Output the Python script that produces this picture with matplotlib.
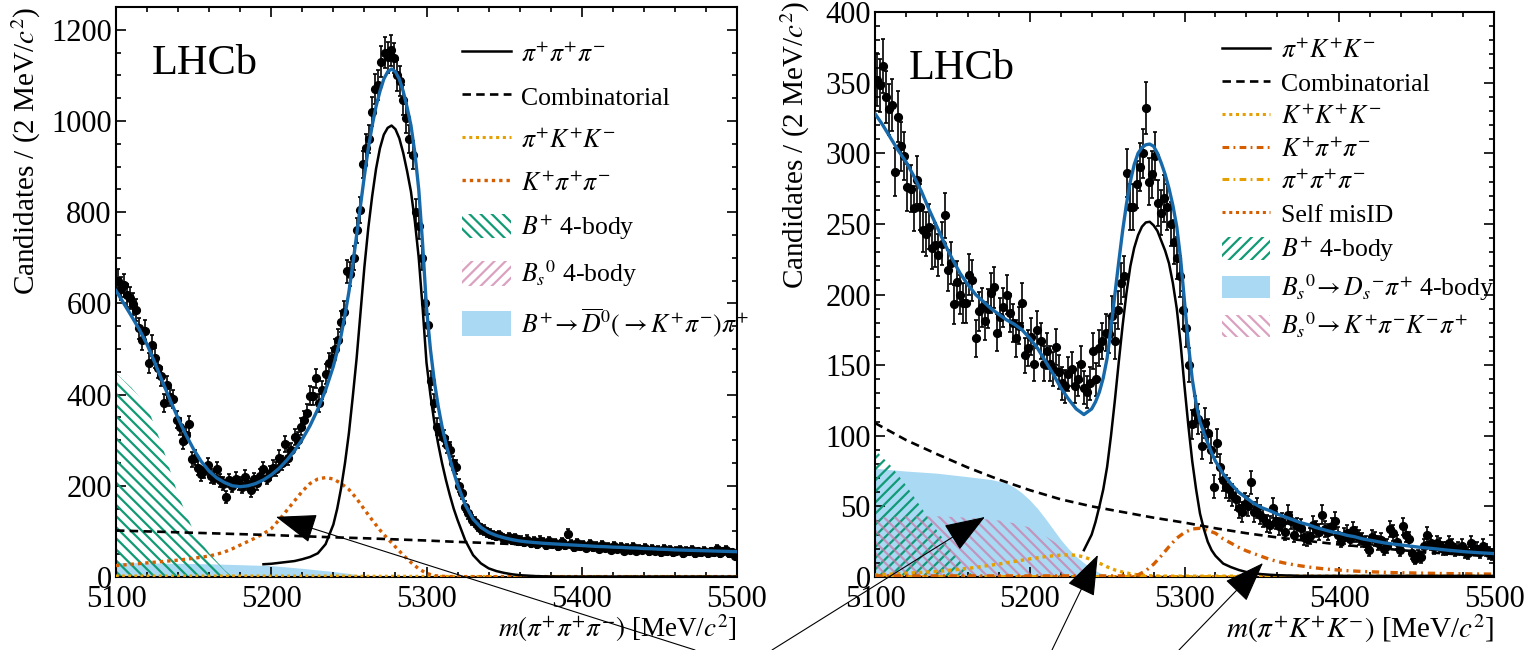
import numpy as np
import matplotlib
matplotlib.use('Agg')
import matplotlib.pyplot as plt
from matplotlib.lines import Line2D
from matplotlib.patches import Patch
from matplotlib.ticker import MultipleLocator

plt.rcParams['font.family'] = ['Liberation Serif', 'DejaVu Serif']
plt.rcParams['mathtext.fontset'] = 'stix'
plt.rcParams['hatch.linewidth'] = 1.6

# bin centres and curve grids (MeV/c^2)
bins = np.arange(5101, 5500, 2)
fit_m = np.r_[np.arange(5100, 5240, 5), np.arange(5240, 5320, 2.5), np.arange(5320, 5501, 5)]
grid5 = np.arange(5100, 5501, 5)
comb_m = np.arange(5100, 5501, 20)

# ---------------- left: m(pi+ pi+ pi-) ----------------
left_counts = [
    650, 632, 640, 618, 612, 598, 585, 545, 520, 540,
    470, 508, 480, 458, 440, 382, 420, 395, 390, 345,
    330, 298, 312, 335, 258, 262, 240, 226, 232, 246,
    222, 218, 236, 212, 205, 176, 212, 200, 216, 206,
    198, 220, 204, 190, 214, 206, 222, 236, 218, 228,
    240, 236, 262, 250, 292, 262, 278, 308, 300, 330,
    345, 360, 398, 396, 436, 382, 410, 445, 470, 480,
    500, 520, 560, 582, 670, 665, 700, 760, 805, 905,
    940, 960, 1020, 1070, 1080, 1130, 1150, 1140, 1155, 1138,
    1100, 1087, 1046, 1006, 960, 926, 800, 770, 700, 600,
    553, 430, 382, 330, 318, 305, 290, 279, 250, 242,
    200, 184, 154, 140, 125, 120, 112, 105, 103, 98,
    95, 92, 90, 92, 86, 84, 88, 82, 85, 80,
    80, 76, 82, 74, 78, 72, 80, 76, 70, 78,
    72, 74, 68, 76, 70, 95, 72, 66, 74, 68,
    70, 64, 72, 66, 68, 62, 70, 64, 66, 60,
    68, 62, 66, 58, 64, 60, 66, 58, 62, 60,
    64, 56, 62, 58, 60, 54, 62, 56, 60, 54,
    58, 60, 52, 58, 56, 60, 52, 56, 54, 58,
    52, 56, 54, 62, 52, 56, 60, 52, 54, 46,
]
left_fit = [
    628, 600, 572, 543, 510, 470, 428, 387, 348, 312,
    280, 253, 232, 217, 207, 200, 198, 200, 205, 213,
    224, 238, 256, 277, 302, 332, 368, 410,
    462, 495, 530, 575, 625, 685, 750, 815, 880, 940,
    990, 1032, 1065, 1092, 1108, 1114, 1108, 1092, 1065, 1030,
    990, 930, 850, 730, 590, 500, 430, 375, 330, 293,
    260, 230,
    203, 158, 127, 109, 98, 91, 86, 82, 79, 77,
    75.5, 74, 73, 72, 71, 70, 69, 68, 67, 66.5,
    65.5, 65, 64, 63.5, 62.5, 62, 61, 60.5, 59.5, 59,
    58.5, 58, 57.5, 57, 56.5, 56, 55.5,
]
left_sig_m = np.r_[np.arange(5195, 5240, 5), np.arange(5240, 5320, 2.5), np.arange(5320, 5501, 5)]
left_sig = [28, 29, 31, 33, 35, 39, 44, 52, 72,
            115, 150, 195, 250, 315, 395, 480, 580, 680, 765,
            835, 895, 940, 970, 985, 990, 982, 962, 930, 890,
            845, 780, 700, 590, 470, 400, 340, 292, 250, 213,
            180, 150,
            125, 80, 48, 30, 19, 13, 9, 6, 4, 3, 2, 1.5, 1.2] + [1.0] * 24
left_comb = [102, 100, 98, 96, 94, 92, 89.5, 87, 85, 82.5, 80,
             77, 74.5, 71.5, 69, 66, 63.5, 61, 58.5, 56, 53.5]
left_kpp = [25, 26.5, 28, 29.5, 31, 32.5, 34, 35.5, 37, 39,
            41, 43.5, 46, 50, 55, 62, 70, 78, 86, 95,
            106, 125, 146, 167, 188, 205, 215, 218, 215, 205,
            192, 172, 148, 125, 103, 84, 66, 48, 32, 18,
            8, 3, 1.5, 1] + [0.8] * 37
left_pkk = [2.5, 2.5, 2.5, 2.5, 2.5, 2.5, 2.5, 2.5, 2.0, 2.0, 1.8,
            1.5, 1.5, 1.5, 1.5, 1.5, 1.5, 1.5, 1.5, 1.5, 1.5]
left_dfill_m = [5100, 5120, 5140, 5160, 5180, 5200, 5220, 5240, 5250, 5260, 5265]
left_dfill = [32, 31, 30, 29, 27, 25, 19, 12, 8, 3, 0]
left_b4_m = [5100, 5110, 5120, 5130, 5140, 5150, 5160, 5170, 5175]
left_b4 = [447, 415, 375, 285, 180, 100, 52, 15, 0]

# ---------------- right: m(pi+ K+ K-) ----------------
right_counts = [
    352, 348, 362, 340, 331, 334, 287, 326, 305, 298,
    276, 275, 261, 281, 262, 246, 243, 248, 233, 235,
    228, 236, 256, 217, 222, 193, 209, 200, 194, 194,
    214, 210, 169, 188, 191, 181, 190, 201, 205, 173,
    184, 191, 200, 187, 180, 169, 178, 194, 157, 162,
    170, 151, 175, 167, 151, 160, 151, 147, 163, 145,
    137, 135, 144, 147, 135, 140, 151, 134, 131, 137,
    160, 140, 162, 167, 173, 172, 185, 167, 189, 208,
    213, 286, 262, 262, 278, 290, 300, 332, 280, 285,
    298, 265, 258, 268, 262, 250, 237, 226, 213, 189,
    176, 150, 108, 117, 112, 93, 109, 102, 90, 64,
    95, 78, 69, 64, 62, 58, 55, 49, 46, 52,
    50, 67, 46, 49, 44, 42, 38, 37, 49, 40,
    36, 39, 32, 44, 40, 30, 36, 35, 28, 27,
    29, 37, 34, 32, 44, 34, 32, 36, 40, 30,
    26, 29, 31, 27, 33, 30, 28, 26, 24, 19,
    28, 27, 24, 26, 20, 22, 34, 31, 25, 19,
    36, 30, 27, 17, 13, 15, 14, 22, 30, 24,
    21, 24, 23, 20, 20, 24, 22, 19, 20, 22,
    18, 17, 24, 20, 20, 18, 22, 19, 17, 16,
]
right_fit = [
    328, 320, 311, 302, 294, 284, 273, 260, 248, 236,
    225, 215, 207, 200, 195, 190, 186, 182, 179, 175,
    169, 162, 153, 144, 134, 126, 119, 115,
    119, 124, 131, 141, 155, 176, 200, 223, 245, 264,
    280, 292, 300, 304, 306, 306.5, 305, 300, 293, 285,
    275, 263, 248, 225, 195, 165, 140, 123, 110, 102,
    95, 88,
    82, 73, 66, 60, 56, 52, 49, 47, 44.5, 42.5,
    40.5, 38.5, 37, 35, 33.5, 32, 31, 29.5, 28.5, 27,
    26, 25, 24, 23.3, 22.7, 22, 21.3, 20.7, 20.2, 19.6,
    19, 18.5, 18, 17.6, 17.2, 16.9, 16.6,
]
right_sig_m = np.r_[5235, np.arange(5240, 5320, 2.5), np.arange(5320, 5501, 5)]
right_sig = [19,
             30, 39, 50, 62, 78, 100, 125, 152, 178, 201,
             220, 233, 242, 248, 251, 251.5, 249, 245, 238, 231,
             222, 208, 190, 165, 135, 107, 82, 62, 45, 34,
             25, 19,
             15, 9.5, 7, 5, 3.5, 2.6, 2, 1.6, 1.3, 1.1, 1.0] + [0.8] * 26
right_comb = [109, 97, 87, 77.5, 69, 61.5, 55, 50, 46, 42, 38.5,
              34.5, 31, 28, 25.5, 23, 21, 19, 17.3, 15.8, 14.5]
right_kkk = [1.4, 1.7, 2.0, 2.3, 2.6, 3.0, 3.3, 3.6, 3.9, 4.4,
             5.0, 5.5, 6.1, 6.8, 7.6, 8.4, 9.2, 10.1, 11.0, 11.9,
             12.8, 13.6, 14.4, 15.0, 15.5, 15.7, 15.4, 14.2, 12.2, 9.8,
             7.2, 5.0, 3.5, 2.3, 1.5, 1.0, 0.8] + [0.6] * 44
right_kpp = [0.8] * 34 + [
    1.5, 4.5, 9, 15, 21.5, 27.5, 31.5, 34, 34.5, 33,
    31, 27, 24, 21, 18.5, 16.5, 14.5, 12.5, 11, 9.8,
    8.8, 7.9, 7.1, 6.4, 5.8, 5.3, 4.9, 4.5, 4.2, 3.9,
    3.7, 3.5, 3.3, 3.1, 3.0, 2.9, 2.8, 2.7, 2.6, 2.5,
    2.4, 2.35, 2.3, 2.2, 2.15, 2.1, 2.05]
right_ppp = [0.6] * 21
right_self = [0.5] * 21
right_dfill_m = [5100, 5110, 5120, 5140, 5160, 5175, 5185, 5190, 5195, 5200, 5205,
                 5210, 5215, 5220, 5225, 5230, 5235, 5240, 5245, 5250, 5255]
right_dfill = [77, 76, 75, 73.5, 71, 69, 66.5, 63.5, 59.5, 54.5, 48.5,
               41.5, 34, 26.5, 20, 14.5, 10, 6, 3, 1, 0]
right_b4_m = [5100, 5110, 5120, 5130, 5140, 5150, 5160, 5165]
right_b4 = [90, 79, 65, 49, 33, 18, 4, 0]
right_kpkp_m = [5100, 5120, 5140, 5160, 5180, 5190, 5200, 5210, 5220, 5230, 5240, 5245]
right_kpkp = [42, 43, 43, 42, 40, 38, 35, 29, 22, 12, 3, 0]

C_FIT = '#1769aa'
C_GREEN = '#109a76'
C_PINK = '#cc79a7'
C_SKY = '#56b4e9'
C_ORANGE = '#e69f00'
C_VERM = '#d55e00'

DOT = (0, (1, 1.2))
DASH = (0, (3.2, 2))
DASHDOT = (0, (2.2, 1.4, 0.6, 1.4))
H_BACK = '\\\\\\'
H_FWD = '///'


def style_axes(ax, ymax, ymaj, ymin):
    ax.set_xlim(5100, 5500)
    ax.set_ylim(0, ymax)
    ax.xaxis.set_major_locator(MultipleLocator(100))
    ax.xaxis.set_minor_locator(MultipleLocator(20))
    ax.yaxis.set_major_locator(MultipleLocator(ymaj))
    ax.yaxis.set_minor_locator(MultipleLocator(ymin))
    ax.tick_params(which='both', direction='in', top=True, right=True,
                   labelsize=22, width=1.2)
    ax.tick_params(which='major', length=7)
    ax.tick_params(which='minor', length=3.6)
    ax.tick_params(axis='x', pad=6)
    ax.tick_params(axis='y', pad=3)
    for s in ax.spines.values():
        s.set_linewidth(1.5)


def draw_data(ax, counts):
    c = np.array(counts, dtype=float)
    ax.errorbar(bins, c, yerr=np.sqrt(c), fmt='o', color='k', ms=5.6,
                elinewidth=1.2, capsize=1.7, capthick=1.2, zorder=5)


def arrow(ax, tip, tail_px):
    ax.annotate('', xy=tip, xycoords='data', xytext=tail_px,
                textcoords='figure pixels', annotation_clip=False, zorder=10,
                arrowprops=dict(arrowstyle='-|>,head_length=2.6,head_width=0.95',
                                mutation_scale=10, lw=0.8, color='k',
                                shrinkA=0, shrinkB=0))


fig = plt.figure(figsize=(15.33, 6.5), dpi=100)
axL = fig.add_axes([116 / 1533, 73 / 650, 621 / 1533, 570 / 650])
axR = fig.add_axes([875 / 1533, 73 / 650, 619 / 1533, 565 / 650])

# ---- left panel
style_axes(axL, 1250, 200, 50)
axL.fill_between(left_dfill_m, 0, left_dfill, color=C_SKY, alpha=0.5, lw=0, zorder=1)
axL.fill_between(left_b4_m, 0, left_b4, facecolor='none', edgecolor=C_GREEN,
                 hatch=H_BACK, lw=0, zorder=2)
axL.plot(comb_m, left_pkk, color=C_ORANGE, lw=2, ls=DOT, zorder=3)
axL.plot(grid5, left_kpp, color=C_VERM, lw=2.4, ls=DOT, zorder=3)
axL.plot(comb_m, left_comb, color='k', lw=1.9, ls=DASH, zorder=3)
axL.plot(left_sig_m, left_sig, color='k', lw=1.8, zorder=4)
draw_data(axL, left_counts)
axL.plot(fit_m, left_fit, color=C_FIT, lw=2.4, zorder=6)

axL.text(0.058, 0.882, 'LHCb', transform=axL.transAxes, fontsize=30.5)
axL.set_ylabel(r'Candidates / (2 MeV/$c^{2}$)', fontsize=21, loc='top')
axL.yaxis.set_label_coords(-0.117, 1.0)
axL.set_xlabel(r'$m(\pi^{+}\pi^{+}\pi^{-})$ [MeV/$c^{2}$]', fontsize=19.5, loc='right')
axL.xaxis.set_label_coords(1.0, -0.062)

hL = [
    Line2D([], [], color='k', lw=1.8),
    Line2D([], [], color='k', lw=1.9, ls=DASH),
    Line2D([], [], color=C_ORANGE, lw=2.2, ls=DOT),
    Line2D([], [], color=C_VERM, lw=2.4, ls=DOT),
    Patch(facecolor='none', edgecolor=C_GREEN, hatch=H_BACK, lw=0),
    Patch(facecolor='none', edgecolor=C_PINK, hatch=H_FWD, lw=0, alpha=0.7),
    Patch(facecolor=C_SKY, alpha=0.5, lw=0),
]
labL = [r'$\pi^{+}\pi^{+}\pi^{-}$', 'Combinatorial', r'$\pi^{+}K^{+}K^{-}$',
        r'$K^{+}\pi^{+}\pi^{-}$', r'$B^{+}$ 4-body', r'$B_{s}{}^{0}$ 4-body',
        r'$B^{+}\!\rightarrow\overline{D}{}^{0}(\rightarrow K^{+}\pi^{-})\pi^{+}$']
axL.legend(hL, labL, loc='upper left', bbox_to_anchor=(0.557, 0.941), frameon=False,
           fontsize=18.5, handlelength=1.9, handleheight=1.1, handletextpad=0.4,
           labelspacing=0.66, borderpad=0, borderaxespad=0)

arrow(axL, (5203, 132), (695, 0))

# ---- right panel
style_axes(axR, 400, 50, 10)
axR.fill_between(right_dfill_m, 0, right_dfill, color=C_SKY, alpha=0.5, lw=0, zorder=1)
axR.fill_between(right_b4_m, 0, right_b4, facecolor='none', edgecolor=C_GREEN,
                 hatch=H_FWD, lw=0, zorder=2)
axR.fill_between(right_kpkp_m, 0, right_kpkp, facecolor='none', edgecolor=C_PINK,
                 hatch=H_BACK, lw=0, alpha=0.7, zorder=2)
axR.plot(comb_m, right_self, color=C_VERM, lw=2, ls=DOT, zorder=3)
axR.plot(comb_m, right_ppp, color=C_ORANGE, lw=2, ls=DASHDOT, zorder=3)
axR.plot(grid5, right_kkk, color=C_ORANGE, lw=2.4, ls=DOT, zorder=3)
axR.plot(grid5, right_kpp, color=C_VERM, lw=2.4, ls=DASHDOT, zorder=3)
axR.plot(comb_m, right_comb, color='k', lw=1.9, ls=DASH, zorder=3)
axR.plot(right_sig_m, right_sig, color='k', lw=1.8, zorder=4)
draw_data(axR, right_counts)
axR.plot(fit_m, right_fit, color=C_FIT, lw=2.4, zorder=6)

axR.text(0.055, 0.882, 'LHCb', transform=axR.transAxes, fontsize=30.5)
axR.set_ylabel(r'Candidates / (2 MeV/$c^{2}$)', fontsize=21, loc='top')
axR.yaxis.set_label_coords(-0.102, 1.02)
axR.set_xlabel(r'$m(\pi^{+}K^{+}K^{-})$ [MeV/$c^{2}$]', fontsize=21, loc='right')
axR.xaxis.set_label_coords(1.0, -0.062)

hR = [
    Line2D([], [], color='k', lw=1.8),
    Line2D([], [], color='k', lw=1.9, ls=DASH),
    Line2D([], [], color=C_ORANGE, lw=2.2, ls=DOT),
    Line2D([], [], color=C_VERM, lw=2.2, ls=DASHDOT),
    Line2D([], [], color=C_ORANGE, lw=2.2, ls=DASHDOT),
    Line2D([], [], color=C_VERM, lw=2.2, ls=DOT),
    Patch(facecolor='none', edgecolor=C_GREEN, hatch=H_FWD, lw=0),
    Patch(facecolor=C_SKY, alpha=0.5, lw=0),
    Patch(facecolor='none', edgecolor=C_PINK, hatch=H_BACK, lw=0, alpha=0.7),
]
labR = [r'$\pi^{+}K^{+}K^{-}$', 'Combinatorial', r'$K^{+}K^{+}K^{-}$',
        r'$K^{+}\pi^{+}\pi^{-}$', r'$\pi^{+}\pi^{+}\pi^{-}$', 'Self misID',
        r'$B^{+}$ 4-body', r'$B_{s}{}^{0}\!\rightarrow D_{s}{}^{-}\pi^{+}$ 4-body',
        r'$B_{s}{}^{0}\!\rightarrow K^{+}\pi^{-}K^{-}\pi^{+}$']
axR.legend(hR, labR, loc='upper left', bbox_to_anchor=(0.560, 0.954), frameon=False,
           fontsize=18.5, handlelength=1.9, handleheight=0.95, handletextpad=0.4,
           labelspacing=0.31, borderpad=0, borderaxespad=0)

arrow(axR, (5171, 42.5), (772, 0))
arrow(axR, (5244, 15.6), (1052, 0))
arrow(axR, (5350.7, 9.9), (1179, 0))

fig.savefig('out.png', dpi=100)
